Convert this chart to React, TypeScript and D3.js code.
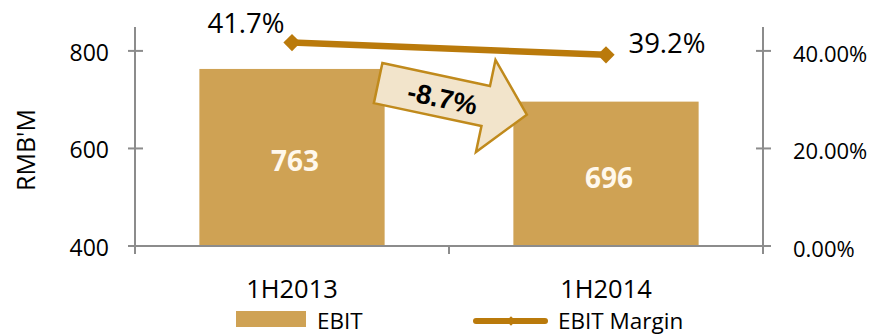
import React from "react";
import * as d3 from "d3";

const categories = ["1H2013", "1H2014"];
const ebit = [763, 696];
const ebitMargin = [41.7, 39.2];
const leftTicks = [400, 600, 800];
const rightTicks = [0, 20, 40];
const marginLabels = ["41.7%", "39.2%"];
const changeLabel = "-8.7%";

const W = 875;
const H = 336;
const BAR = "#CFA254";
const LINE = "#BA7A0B";
const AXIS = "#8C8C8C";
const FONT = "'Open Sans', 'Liberation Sans', Arial, sans-serif";
const BOLDFONT = "'Liberation Sans', Arial, sans-serif";

export default function App() {
  const x0 = 135;
  const x1 = 763;
  const yBase = 246;
  const x = d3.scaleBand<string>().domain(categories).range([x0, x1]).paddingInner(0.41).paddingOuter(0.205);
  const band = d3.scaleBand<string>().domain(categories).range([x0, x1]);
  const yL = d3.scaleLinear().domain([400, 849]).range([yBase, 27]);
  const yR = d3.scaleLinear().domain([0, 44.9]).range([yBase, 27]);
  const cx = (c: string) => (x(c) as number) + x.bandwidth() / 2;

  const line = d3
    .line<number>()
    .x((_, i) => cx(categories[i]))
    .y((d) => yR(d));

  const diamond = d3.symbol().type(d3.symbolDiamond2).size(190)();

  // arrow annotation anchored on first bar's right edge
  const ax = (x(categories[0]) as number) + x.bandwidth() - 6.5;
  const ay = yL(734);
  const arrowPts = [
    [0, -20.5],
    [110, -20.5],
    [110, -47],
    [152, 0],
    [110, 47],
    [110, 20.5],
    [0, 20.5],
  ];

  const labelOffsets = [
    [-46, -20],
    [61, -12],
  ];

  return (
    <svg width={W} height={H} style={{ position: "absolute", left: 0, top: 0 }} fontFamily={FONT}>
      <rect width={W} height={H} fill="#fff" />
      {/* bars */}
      {categories.map((c, i) => (
        <rect key={c} x={x(c)} y={yL(ebit[i])} width={x.bandwidth()} height={yBase - yL(ebit[i])} fill={BAR} />
      ))}
      {/* axes */}
      <g stroke={AXIS} strokeWidth={2}>
        <line x1={x0} x2={x0} y1={27} y2={254} />
        <line x1={x1} x2={x1} y1={27} y2={254} />
        <line x1={x0} x2={x1} y1={yBase} y2={yBase} />
        {leftTicks.map((t) => (
          <line key={"l" + t} x1={x0 - 7} x2={x0 + 8} y1={yL(t)} y2={yL(t)} />
        ))}
        {rightTicks.map((t) => (
          <line key={"r" + t} x1={x1 - 7} x2={x1 + 8} y1={yR(t)} y2={yR(t)} />
        ))}
        {categories.slice(1).map((c) => (
          <line key={"x" + c} x1={band(c)} x2={band(c)} y1={yBase} y2={254} />
        ))}
      </g>
      {/* tick labels */}
      {leftTicks.map((t) => (
        <text key={"lt" + t} x={109} y={yL(t) + 1} textAnchor="end" dominantBaseline="central" fontSize={23} fill="#000">
          {t}
        </text>
      ))}
      {rightTicks.map((t) => (
        <text key={"rt" + t} x={793} y={yR(t) + 2} dominantBaseline="central" fontSize={22} fill="#000">
          {t.toFixed(2) + "%"}
        </text>
      ))}
      {categories.map((c) => (
        <text key={"c" + c} x={cx(c)} y={288} textAnchor="middle" dominantBaseline="central" fontSize={25.5} fill="#000">
          {c}
        </text>
      ))}
      <text
        transform={`translate(25,150) rotate(-90)`}
        textAnchor="middle"
        dominantBaseline="central"
        fontSize={25}
        fill="#000"
      >
        RMB'M
      </text>
      {/* bar value labels */}
      {categories.map((c, i) => (
        <text
          key={"v" + c}
          x={cx(c) + 3}
          y={(yL(ebit[i]) + yBase) / 2 + 3}
          textAnchor="middle"
          dominantBaseline="central"
          fontSize={28}
          fontWeight="bold"
          fill="#FFF8EC"
        >
          {ebit[i]}
        </text>
      ))}
      {/* margin line */}
      <path d={line(ebitMargin) || ""} fill="none" stroke={LINE} strokeWidth={6.5} />
      {ebitMargin.map((m, i) => (
        <path key={"d" + i} d={diamond || ""} transform={`translate(${cx(categories[i])},${yR(m)})`} fill={LINE} />
      ))}
      {ebitMargin.map((m, i) => (
        <text
          key={"ml" + i}
          x={cx(categories[i]) + labelOffsets[i][0]}
          y={yR(m) + labelOffsets[i][1]}
          textAnchor="middle"
          dominantBaseline="central"
          fontSize={27.5}
          fill="#000"
        >
          {marginLabels[i]}
        </text>
      ))}
      {/* arrow annotation */}
      <g transform={`translate(${ax},${ay}) rotate(12)`}>
        <polygon
          points={arrowPts.map((p) => p.join(",")).join(" ")}
          fill="#F2E4CB"
          stroke="#C08A1C"
          strokeWidth={2.5}
          strokeLinejoin="miter"
        />
        <text x={66} y={2} textAnchor="middle" dominantBaseline="central" fontSize={27} fontWeight="bold" fontFamily={BOLDFONT} fill="#000">
          {changeLabel}
        </text>
      </g>
      {/* legend */}
      <rect x={236} y={311} width={70} height={16} fill={BAR} />
      <text x={317} y={320} dominantBaseline="central" fontSize={22.5} fill="#000">
        EBIT
      </text>
      <line x1={476} x2={545} y1={321} y2={321} stroke={LINE} strokeWidth={6} strokeLinecap="round" />
      <path d={d3.symbol().type(d3.symbolDiamond2).size(60)() || ""} transform="translate(511,321)" fill={LINE} />
      <text x={558} y={320} dominantBaseline="central" fontSize={22.5} fill="#000">
        EBIT Margin
      </text>
    </svg>
  );
}
